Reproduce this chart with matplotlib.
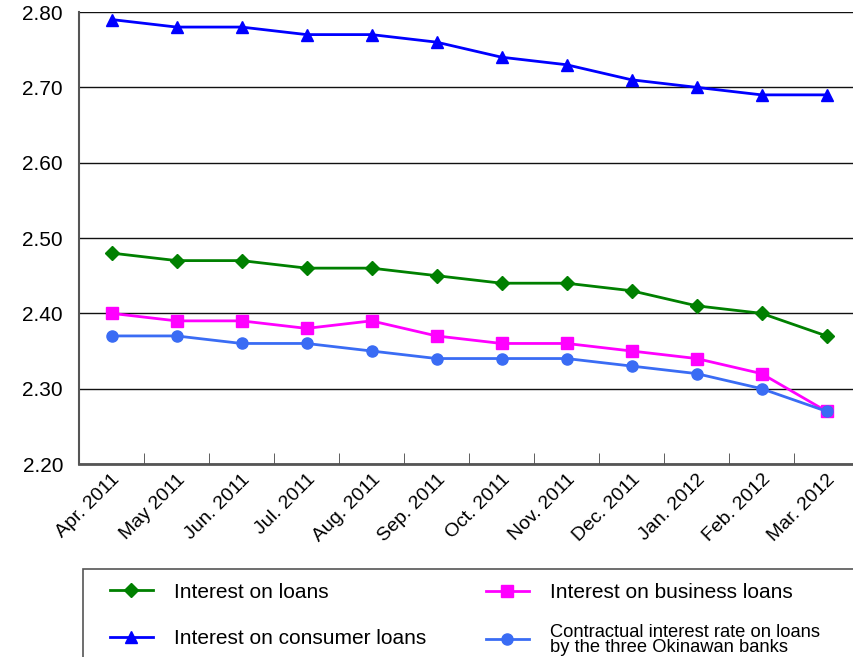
import matplotlib
matplotlib.use("Agg")
from matplotlib import pyplot as plt
from matplotlib.patches import Rectangle
import numpy as np

plt.rcParams['font.family'] = ['Liberation Sans', 'DejaVu Sans']

# Meses
meses = ["Apr. 2011", "May 2011", "Jun. 2011", "Jul. 2011", "Aug. 2011", "Sep. 2011",
         "Oct. 2011", "Nov. 2011", "Dec. 2011", "Jan. 2012", "Feb. 2012", "Mar. 2012"]

# Series
interes_prestamos = [2.48, 2.47, 2.47, 2.46, 2.46, 2.45, 2.44, 2.44, 2.43, 2.41, 2.40, 2.37]
interes_consumo = [2.79, 2.78, 2.78, 2.77, 2.77, 2.76, 2.74, 2.73, 2.71, 2.70, 2.69, 2.69]
interes_negocios = [2.40, 2.39, 2.39, 2.38, 2.39, 2.37, 2.36, 2.36, 2.35, 2.34, 2.32, 2.27]
interes_okinawa = [2.37, 2.37, 2.36, 2.36, 2.35, 2.34, 2.34, 2.34, 2.33, 2.32, 2.30, 2.27]

W, H = 854, 657
fig = plt.figure(figsize=(W / 100, H / 100), dpi=100)
ax = fig.add_axes([79 / W, 1 - 464 / H, 780 / W, 452 / H])

x = np.arange(len(meses))
lw = 2.0
l1, = ax.plot(x, interes_prestamos, marker='D', markersize=7.5, color='#008000', lw=lw,
              label="Interest on loans", zorder=3)
l2, = ax.plot(x, interes_consumo, marker='^', markersize=9, color='#0000FF', lw=lw,
              label="Interest on consumer loans", zorder=3)
l3, = ax.plot(x, interes_negocios, marker='s', markersize=8, color='#FF00FF', lw=lw,
              label="Interest on business loans", zorder=3)
l4, = ax.plot(x, interes_okinawa, marker='o', markersize=8, color='#3A6CF4', lw=lw,
              label="Contractual interest rate on loans\nby the three Okinawan banks", zorder=4)

ax.set_xlim(-0.5, len(meses) - 0.5)
ax.set_ylim(2.20, 2.80)
ax.set_yticks(np.arange(2.20, 2.801, 0.10))
ax.set_yticklabels([f"{v:.2f}" for v in np.arange(2.20, 2.801, 0.10)], fontsize=15)
ax.yaxis.grid(True, color='#111111', lw=1.0)
ax.set_axisbelow(True)

ax.set_xticks(x)
ax.set_xticklabels(meses, rotation=45, ha='right', rotation_mode='anchor', fontsize=14)
ax.set_xticks(np.arange(0.5, len(meses) - 0.5, 1), minor=True)
ax.tick_params(axis='x', which='major', length=0, pad=5)
ax.tick_params(axis='x', which='minor', direction='in', length=8, color='#444444')
ax.tick_params(axis='y', length=0, pad=11.5)

for lado in ['top', 'right']:
    ax.spines[lado].set_visible(False)
ax.spines['left'].set_color('#555555')
ax.spines['left'].set_linewidth(1.5)
ax.spines['bottom'].set_color('#555555')
ax.spines['bottom'].set_linewidth(2)

# Caja de la leyenda
fig.patches.append(Rectangle((83 / W, -0.1), 1, 1.1 - 569 / H, transform=fig.transFigure,
                             fill=False, edgecolor='#555555', lw=1.2))

# Una leyenda por entrada para fijar su posicion
entradas = [(l1, 110, 592), (l2, 110, 639), (l3, 486, 593), (l4, 486, 640)]
for linea, px, py in entradas:
    leg = fig.legend(handles=[linea], loc='center left', frameon=False,
                     bbox_to_anchor=(px / W, 1 - py / H), fontsize=15,
                     handlelength=2.05, handletextpad=1.0, borderpad=0,
                     borderaxespad=0)
    if linea is l4:
        leg.get_texts()[0].set_fontsize(13.2)
        leg.get_texts()[0].set_linespacing(0.88)

plt.savefig("out.png", dpi=100)
